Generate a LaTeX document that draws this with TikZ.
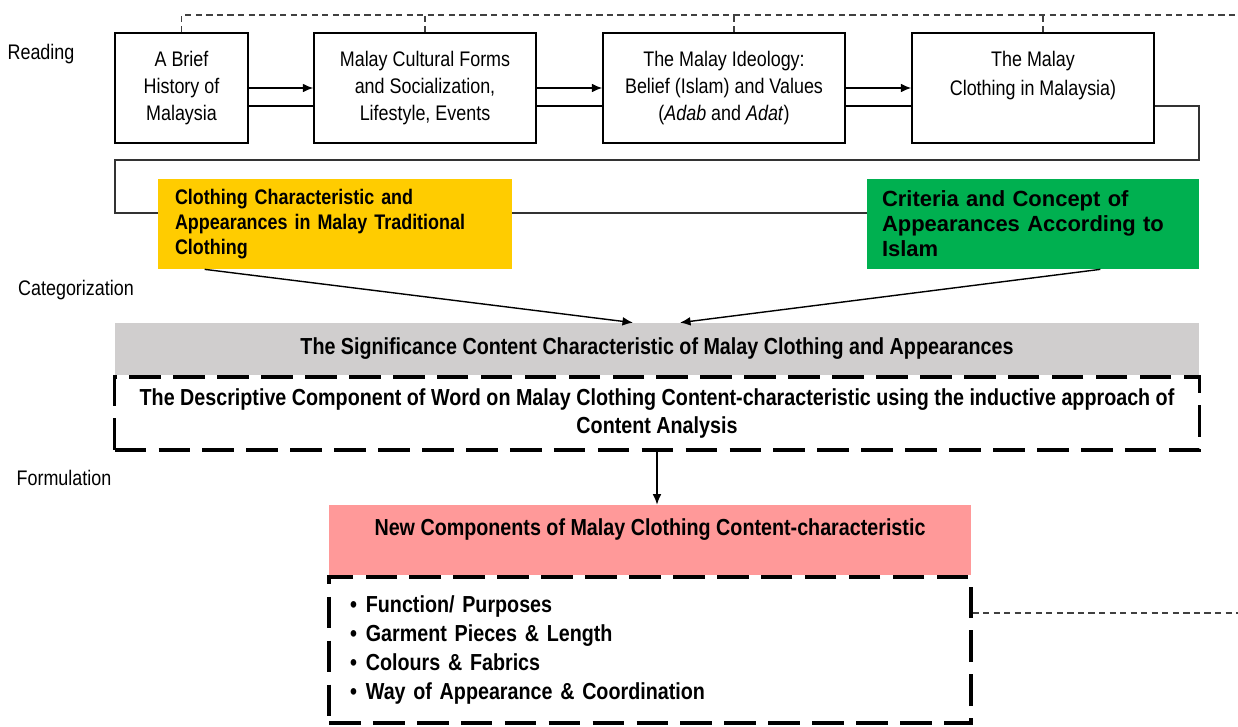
\documentclass[tikz,border=0pt]{standalone}
\usepackage{fontspec}
\setmainfont{Liberation Sans}
\newfontfamily\narrow[FakeStretch=0.85]{Liberation Sans}
\usetikzlibrary{arrows.meta,positioning,calc,backgrounds}
\definecolor{catyellow}{HTML}{FFCC00}
\definecolor{catgreen}{HTML}{00B050}
\definecolor{sigrey}{HTML}{D0CECE}
\definecolor{newpink}{HTML}{FF9999}

\begin{document}
\begin{tikzpicture}[x=0.02cm,y=-0.02cm] % one unit is one pixel of the scan, y grows downwards
\tikzset{every node/.style={font=\narrow\fontsize{12}{15.3}\selectfont}} % narrow sans for all text
\tikzset{readbox/.style={draw, line width=0.8pt, inner sep=0pt, align=center, minimum height=2.2cm}} % boxes of the reading row
\tikzset{catbox/.style={inner ysep=0pt, minimum height=1.8cm, align=left}} % coloured category boxes
\tikzset{bigdash/.style={draw, line width=1.8pt, dash pattern=on 18pt off 7pt}} % heavy dashed frames
\tikzset{link/.style={line width=0.8pt}, arr/.style={link, -{Latex[length=6pt,width=5pt]}}}
\tikzset{thindash/.style={line width=0.6pt, draw=black!75, dash pattern=on 3.5pt off 2.5pt}}
\useasboundingbox (0,0) rectangle (1238,727);

% stage labels
\node (lread) at (41,54) {Reading};
\node (lcat) at (76,290) {Categorization};
\node (lform) at (64,478) {Formulation};

% reading row
\node[readbox, minimum width=2.66cm] (b1) at (181.5,88) {A Brief\\History of\\Malaysia};
\node[readbox, minimum width=4.44cm] (b2) at (425,88) {Malay Cultural Forms\\and Socialization,\\Lifestyle, Events};
\node[readbox, minimum width=4.84cm] (b3) at (724,88) {The Malay Ideology:\\Belief (Islam) and Values\\(\textit{Adab} and \textit{Adat})};
\node[readbox, minimum width=4.84cm, font=\narrow\fontsize{12}{16.5}\selectfont] (b4) at (1033,88) {The Malay\\Clothing in Malaysia)\\\mbox{}};

\draw[arr] (b1) -- (b2);
\draw[arr] (b2) -- (b3);
\draw[arr] (b3) -- (b4);
\draw[link] ([yshift=-0.36cm]b1.east) -- ([yshift=-0.36cm]b2.west);
\draw[link] ([yshift=-0.36cm]b2.east) -- ([yshift=-0.36cm]b3.west);
\draw[link] ([yshift=-0.36cm]b3.east) -- ([yshift=-0.36cm]b4.west);

% dashed line over the reading row
\coordinate (topR) at (1238,15);
\draw[thindash] (b1.north) |- (topR);
\draw[thindash] (b2.north) -- (b2.north |- topR);
\draw[thindash] ([xshift=0.2cm]b3.north) -- ([xshift=0.2cm]b3.north |- topR);
\draw[thindash] ([xshift=0.2cm]b4.north) -- ([xshift=0.2cm]b4.north |- topR);

% categories
\node[catbox, fill=catyellow, inner xsep=0.34cm, text width=6.4cm,
      font=\narrow\bfseries\fontsize{12}{14.2}\selectfont] (cy) at (335,224)
      {Clothing Characteristic and\\Appearances in Malay Traditional\\Clothing};
\node[catbox, fill=catgreen, inner xsep=0.3cm, text width=6.04cm,
      font=\bfseries\fontsize{12.5}{14.2}\selectfont] (cg) at (1033,224)
      {Criteria and Concept of\\Appearances According to\\Islam};

\coordinate (loopR) at (1199,160);
\coordinate (loopL) at (115,213);
\begin{scope}[on background layer]
\draw[link, draw=black!80] ([yshift=-0.36cm]b4.east) -| (loopR) -| (loopL) -- (loopL -| cg.west);
\end{scope}

\node[fill=sigrey, inner sep=0pt, minimum width=21.68cm, minimum height=1.04cm,
      font=\narrow\bfseries\fontsize{13.2}{15.3}\selectfont] (sig) at (657,349)
      {The Significance Content Characteristic of Malay Clothing and Appearances};
\draw[arr] ([xshift=0.94cm]cy.south west) -- ([xshift=-0.48cm]sig.north);
\draw[arr] ([xshift=-1.98cm]cg.south east) -- ([xshift=0.46cm]sig.north);

% descriptive component
\node[bigdash, inner sep=0pt, minimum width=21.7cm, minimum height=1.46cm, align=center,
      font=\narrow\bfseries\fontsize{13.2}{15.4}\selectfont] (desc) at (657,413.5)
      {The Descriptive Component of Word on Malay Clothing Content-characteristic using the inductive approach of\\Content Analysis};

% formulation
\node[fill=newpink, inner sep=0pt, minimum width=12.84cm, minimum height=1.4cm, align=center,
      font=\narrow\bfseries\fontsize{13.2}{15}\selectfont] (newc) at (650,540)
      {New Components of Malay Clothing Content-characteristic\\\mbox{}};
\draw[arr] (desc.south) -- (desc.south |- newc.north);

\node[bigdash, inner ysep=0pt, inner xsep=0.42cm, text width=12.0cm, minimum height=2.92cm, align=left,
      font=\narrow\bfseries\fontsize{13.2}{16.5}\selectfont] (items) at (650,650)
      {\makebox[9pt][l]{\textbullet}Function/ Purposes\\
       \makebox[9pt][l]{\textbullet}Garment Pieces \& Length\\
       \makebox[9pt][l]{\textbullet}Colours \& Fabrics\\
       \makebox[9pt][l]{\textbullet}Way of Appearance \& Coordination};
\coordinate (itemsR) at (1238,613);
\draw[thindash] (items.east |- itemsR) -- (itemsR);
\end{tikzpicture}
\end{document}
